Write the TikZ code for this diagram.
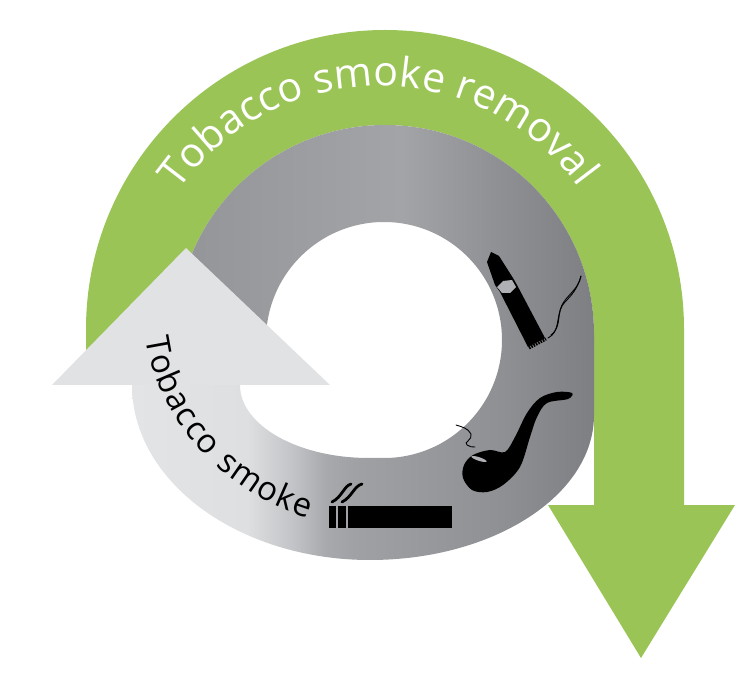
\documentclass[tikz,border=0pt]{standalone}
\usepackage{fontspec}
\setmainfont{Open Sans}
\usetikzlibrary{decorations.text}
\definecolor{leaf}{HTML}{9BC457}
\definecolor{pale}{HTML}{E1E2E4}
\definecolor{ua}{HTML}{95969A}\definecolor{ub}{HTML}{A3A4A7}\definecolor{uc}{HTML}{8F9094}\definecolor{ud}{HTML}{7E7F83}
\definecolor{la}{HTML}{E3E4E5}\definecolor{lb}{HTML}{DEDFE0}\definecolor{lc}{HTML}{C2C3C6}\definecolor{ld}{HTML}{A8A9AC}\definecolor{le}{HTML}{A0A1A4}
\pgfdeclarehorizontalshading{upperband}{100bp}{color(0bp)=(ua);color(27.5bp)=(ua);color(52bp)=(ub);color(63.5bp)=(uc);color(75bp)=(ud);color(100bp)=(ud)}
\pgfdeclarehorizontalshading{lowerband}{100bp}{color(0bp)=(la);color(25bp)=(la);color(37.5bp)=(lb);color(42.5bp)=(lc);color(46bp)=(ld);color(49bp)=(le);color(65bp)=(uc);color(75bp)=(ud);color(100bp)=(ud)}
\tikzset{
  icon/.style={fill=black,draw=none},
  wisp/.style={draw=black,line cap=round,line width=.9pt},
  fume/.style={draw=black,line cap=round,line width=2.8pt},
}
\begin{document}
\begin{tikzpicture}[x=1pt,y=-1pt]
\useasboundingbox (0,0) rectangle (742,684);
% green arrow
\fill[leaf] (86,360) -- (86,329) arc[start angle=180,end angle=0,radius=299pt]
  -- (684,505) -- (735,505) -- (641,658) -- (548,505) -- (594,505) -- (594,334)
  arc[start angle=0,end angle=180,radius=209pt] -- cycle;
% lower grey band
\path[shading=lowerband] (594,340) -- (594,415)
  arc[start angle=0,end angle=-90,x radius=224pt,y radius=145pt]
  arc[start angle=-90,end angle=-180,x radius=238pt,y radius=175pt]
  -- (132,372) -- (240,372) -- (240,385)
  arc[start angle=180,end angle=270,x radius=129pt,y radius=73pt]
  -- (384,458) arc[start angle=270,end angle=360,radius=118pt] -- cycle;
% upper grey band
\path[shading=upperband] (594,342) -- (594,334) arc[start angle=0,end angle=180,radius=209pt]
  -- (176,342) -- (266,342) -- (266,340) arc[start angle=180,end angle=0,radius=118pt] -- (502,342) -- cycle;
% pale arrowhead
\fill[pale] (186,248) -- (330,385) -- (52,385) -- cycle;
% lettering
\path[decorate,decoration={text along path,text align={fit to path},
  text={|\fontsize{41}{41}\selectfont\color{white}|Tobacco smoke removal}}]
  (380,332) ++(145:246pt) arc[start angle=145,end angle=36,radius=246pt];
\path[decorate,decoration={text along path,text align={fit to path},
  text={|\fontsize{33}{33}\selectfont\color{black}|Tobacco smoke}}]
  (146,338) .. controls (155,410) and (215,490) .. (308,518);
% cigarette
\fill[icon] (348,506) rectangle (452,528);
\fill[icon] (329,506) rectangle (336,528);
\fill[icon] (338,506) rectangle (346,528);
\draw[fume] (332,502) .. controls (342,497) and (344,486) .. (351,484);
\draw[fume] (342,502) .. controls (352,497) and (354,486) .. (362,484);
% cigar
\fill[icon] (491,252) -- (487,262) -- (495,285) -- (500,292) -- (528,347) -- (545,338) -- (517,285) -- (513,278) -- (499,256) -- cycle;
\fill[ua!75!white] (497,287) -- (503,281) -- (512,280) -- (516,287) -- (510,293) -- (502,293) -- cycle;
\draw[black,line width=3pt,dash pattern=on 1.6pt off 1pt] (529,348) -- (546,339);
\draw[wisp] (548,338) .. controls (560,332) and (556,318) .. (562,305) .. controls (567,295) and (578,290) .. (581,276);
\draw[wisp] (551,335) .. controls (563,326) and (555,312) .. (565,302) .. controls (571,296) and (578,288) .. (581,276);
% pipe
\fill[icon] plot[smooth cycle,tension=.55] coordinates {(572,393)(557,392)(540,398)(527,413)(515,437)(505,452)(490,450)(473,455)(464,465)(463,478)(472,490)(487,492)(503,485)(520,467)(530,437)(537,417)(547,403)(568,399)};
\fill[ua!75!white,rotate around={-18:(479,459)}] (479,459) ellipse[x radius=8pt,y radius=1.8pt];
\draw[wisp] (456,425) .. controls (462,427) and (468,428) .. (471,434) .. controls (473,440) and (463,442) .. (467,445) .. controls (470,447) and (472,447) .. (475,447);
\end{tikzpicture}
\end{document}
